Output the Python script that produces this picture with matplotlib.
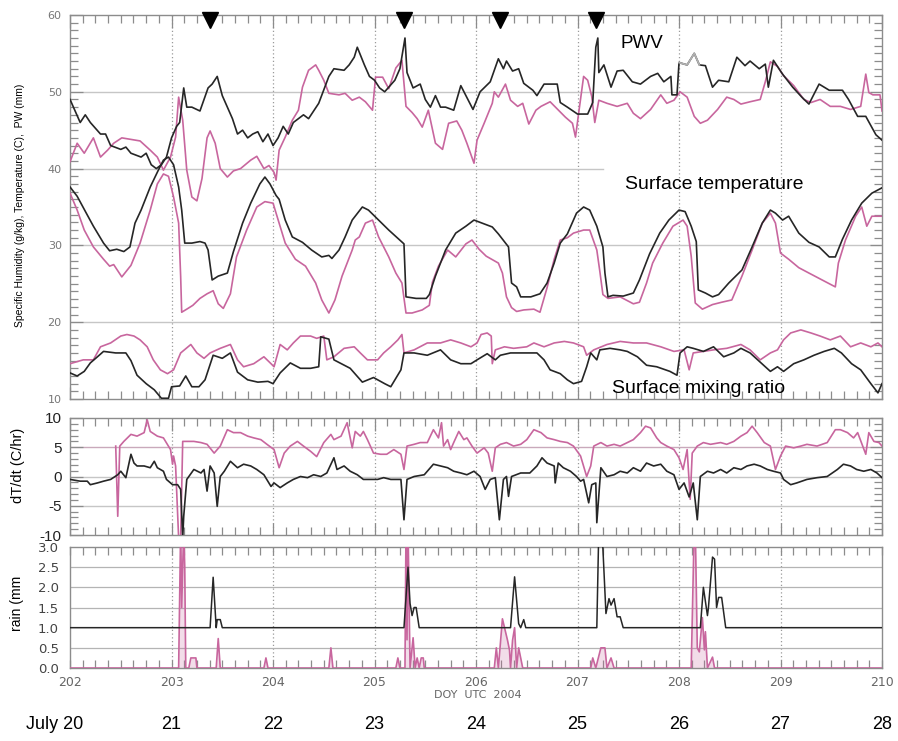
import matplotlib
matplotlib.use("Agg")
import matplotlib.pyplot as plt
from matplotlib.ticker import MultipleLocator
from matplotlib.transforms import blended_transform_factory

plt.rcParams['axes.unicode_minus'] = False

# ---- data (day of year 2004, UTC) ----
pwv_black = [(202.0, 49.0), (202.05, 47.5), (202.1, 46.0), (202.15, 47.0), (202.2, 46.0), (202.3, 44.5),
             (202.35, 44.5), (202.4, 43.0), (202.5, 42.5), (202.55, 42.8), (202.6, 42.0), (202.7, 41.5),
             (202.75, 42.0), (202.8, 40.5), (202.85, 40.0), (202.9, 40.5), (202.95, 41.5), (203.0, 44.0),
             (203.05, 45.5), (203.08, 46.0), (203.12, 50.5), (203.15, 48.0), (203.2, 48.0), (203.28, 47.5),
             (203.32, 49.0), (203.36, 50.5), (203.4, 51.0), (203.45, 52.0), (203.5, 49.5), (203.6, 46.5),
             (203.65, 44.5), (203.7, 45.0), (203.75, 44.0), (203.8, 44.5), (203.85, 44.8), (203.9, 43.5),
             (203.95, 44.5), (204.0, 43.0), (204.05, 44.0), (204.1, 45.5), (204.15, 44.5), (204.2, 46.0),
             (204.3, 47.0), (204.35, 46.5), (204.45, 48.5), (204.55, 52.0), (204.6, 53.0), (204.7, 52.8),
             (204.75, 53.5), (204.8, 54.5), (204.83, 55.8), (204.9, 53.5), (204.95, 52.0), (205.0, 51.5),
             (205.05, 50.5), (205.1, 50.0), (205.2, 51.5), (205.25, 53.0), (205.3, 57.0), (205.32, 52.5),
             (205.38, 50.5), (205.45, 51.0), (205.5, 49.0), (205.55, 48.0), (205.6, 49.5), (205.65, 48.0),
             (205.7, 48.0), (205.78, 47.6), (205.85, 50.8), (205.97, 47.7), (206.04, 50.0), (206.14, 51.3),
             (206.22, 54.3), (206.27, 53.0), (206.3, 54.0), (206.36, 52.7), (206.42, 53.0), (206.47, 51.1),
             (206.56, 50.2), (206.6, 49.5), (206.67, 51.0), (206.8, 51.0), (206.83, 48.6), (206.9, 48.0),
             (207.0, 47.1), (207.1, 47.1), (207.15, 48.6), (207.18, 55.8), (207.2, 57.0), (207.21, 52.5),
             (207.26, 53.5), (207.33, 50.6), (207.39, 52.7), (207.45, 52.8), (207.54, 51.3), (207.62, 51.0),
             (207.72, 52.0), (207.79, 52.4), (207.85, 51.3), (207.92, 52.0), (207.93, 49.6), (207.98, 49.6),
             (208.0, 53.8), (208.08, 53.5), (208.15, 55.0), (208.2, 53.5), (208.26, 53.4), (208.33, 50.6),
             (208.39, 51.5), (208.49, 51.3), (208.57, 54.5), (208.65, 53.4), (208.7, 54.0), (208.79, 53.0),
             (208.85, 53.6), (208.88, 50.6), (208.93, 54.1), (209.02, 52.3), (209.12, 50.6), (209.21, 49.3),
             (209.28, 48.4), (209.38, 51.0), (209.48, 50.2), (209.61, 50.2), (209.67, 49.0), (209.76, 46.8),
             (209.84, 46.8), (209.94, 44.4), (210.0, 43.7)]
pwv_faint_span = (208.0, 208.2)   # stretch drawn in light grey in the original

pwv_pink = [(202.0, 40.9), (202.07, 43.3), (202.14, 42.0), (202.23, 44.0), (202.3, 41.5), (202.37, 42.4),
            (202.43, 43.3), (202.51, 44.0), (202.6, 43.8), (202.69, 43.6), (202.79, 42.4), (202.86, 41.5),
            (202.92, 39.8), (202.99, 41.5), (203.04, 44.1), (203.07, 49.3), (203.11, 46.3), (203.15, 39.8),
            (203.2, 36.3), (203.25, 35.8), (203.3, 38.7), (203.35, 44.0), (203.38, 44.9), (203.43, 43.3),
            (203.48, 40.0), (203.55, 38.9), (203.61, 39.7), (203.68, 40.0), (203.78, 41.1), (203.84, 41.6),
            (203.91, 40.0), (203.96, 40.4), (204.01, 39.5), (204.03, 38.5), (204.06, 42.4), (204.12, 44.1),
            (204.19, 46.3), (204.25, 47.6), (204.29, 50.6), (204.35, 52.8), (204.42, 53.5), (204.45, 52.8),
            (204.5, 51.5), (204.55, 49.8), (204.65, 49.6), (204.71, 49.8), (204.78, 48.9), (204.85, 49.3),
            (204.91, 48.7), (204.98, 47.6), (205.01, 51.9), (205.08, 51.9), (205.14, 50.4), (205.21, 53.1),
            (205.27, 54.1), (205.31, 48.1), (205.37, 47.3), (205.42, 46.5), (205.47, 45.4), (205.53, 47.6),
            (205.6, 43.3), (205.67, 42.5), (205.73, 45.9), (205.81, 46.2), (205.86, 45.0), (205.91, 43.3),
            (205.98, 40.7), (206.01, 43.7), (206.08, 45.9), (206.16, 48.5), (206.18, 50.0), (206.22, 49.3),
            (206.29, 51.0), (206.34, 48.9), (206.41, 48.1), (206.46, 48.5), (206.52, 45.8), (206.59, 47.6),
            (206.64, 48.1), (206.73, 48.7), (206.82, 47.5), (206.88, 46.7), (206.95, 45.9), (206.98, 44.1),
            (207.01, 47.1), (207.06, 52.0), (207.1, 51.5), (207.14, 49.4), (207.17, 46.0), (207.21, 48.9),
            (207.29, 48.5), (207.39, 48.1), (207.49, 48.5), (207.55, 47.2), (207.62, 46.5), (207.72, 47.7),
            (207.82, 49.6), (207.88, 48.5), (207.95, 48.9), (208.01, 50.0), (208.08, 49.3), (208.15, 46.8),
            (208.21, 45.9), (208.28, 46.3), (208.38, 47.7), (208.47, 49.3), (208.54, 49.0), (208.61, 48.4),
            (208.7, 48.7), (208.8, 49.0), (208.85, 51.3), (208.9, 53.9), (208.97, 53.3), (209.03, 52.1),
            (209.13, 50.8), (209.23, 49.0), (209.3, 48.6), (209.39, 49.0), (209.49, 48.1), (209.59, 48.1),
            (209.69, 47.7), (209.79, 48.1), (209.84, 52.3), (209.87, 49.9), (209.91, 49.6), (209.98, 49.6),
            (210.0, 47.5)]

temp_black = [(202.0, 37.6), (202.07, 36.4), (202.16, 34.2), (202.23, 32.5), (202.33, 30.3), (202.39, 29.3),
              (202.46, 29.5), (202.53, 29.2), (202.59, 29.8), (202.64, 32.9), (202.7, 34.6), (202.79, 37.6),
              (202.87, 39.8), (202.92, 41.1), (202.97, 41.5), (203.02, 40.5), (203.07, 37.6), (203.1, 34.6),
              (203.13, 30.3), (203.2, 30.3), (203.28, 30.5), (203.33, 30.3), (203.36, 29.4), (203.4, 25.5),
              (203.46, 26.0), (203.55, 26.4), (203.61, 29.2), (203.7, 32.9), (203.78, 35.5), (203.87, 38.0),
              (203.92, 38.9), (203.97, 38.0), (204.03, 36.5), (204.06, 36.0), (204.12, 33.3), (204.19, 31.1),
              (204.29, 30.4), (204.38, 29.4), (204.48, 28.5), (204.55, 28.7), (204.58, 28.3), (204.65, 29.4),
              (204.71, 31.1), (204.78, 33.3), (204.88, 35.0), (204.94, 34.6), (205.04, 33.3), (205.14, 32.0),
              (205.24, 30.8), (205.29, 30.2), (205.31, 23.3), (205.41, 23.1), (205.51, 23.1), (205.54, 23.6),
              (205.6, 26.0), (205.7, 29.4), (205.8, 31.6), (205.9, 32.5), (205.98, 33.3), (206.06, 32.9),
              (206.16, 32.4), (206.22, 31.5), (206.32, 29.8), (206.35, 25.1), (206.4, 24.6), (206.44, 23.3),
              (206.54, 23.3), (206.63, 23.7), (206.7, 25.1), (206.77, 27.7), (206.83, 30.3), (206.9, 31.5),
              (206.99, 34.2), (207.06, 35.0), (207.12, 34.6), (207.19, 32.5), (207.25, 29.8), (207.27, 26.4),
              (207.3, 23.3), (207.35, 23.5), (207.45, 23.4), (207.55, 23.8), (207.61, 25.5), (207.71, 28.9),
              (207.81, 31.6), (207.9, 33.3), (208.0, 34.6), (208.06, 34.4), (208.12, 32.5), (208.17, 30.5),
              (208.19, 24.2), (208.26, 23.8), (208.33, 23.3), (208.39, 23.6), (208.49, 25.1), (208.62, 26.8),
              (208.72, 29.8), (208.82, 32.9), (208.9, 34.6), (208.95, 34.2), (209.02, 33.3), (209.08, 33.8),
              (209.18, 31.6), (209.28, 30.4), (209.38, 29.8), (209.48, 28.5), (209.54, 28.5), (209.61, 30.8),
              (209.7, 33.3), (209.8, 35.5), (209.9, 36.8), (210.0, 37.5)]

temp_pink = [(202.0, 36.8), (202.07, 34.6), (202.14, 32.0), (202.23, 29.8), (202.33, 28.2), (202.39, 27.3),
             (202.43, 27.5), (202.51, 25.9), (202.6, 27.4), (202.69, 30.3), (202.79, 34.6), (202.86, 38.0),
             (202.92, 39.3), (202.97, 39.0), (203.02, 36.3), (203.07, 32.9), (203.09, 25.9), (203.1, 21.3),
             (203.15, 21.7), (203.21, 22.2), (203.28, 23.1), (203.35, 23.7), (203.41, 24.1), (203.46, 22.4),
             (203.51, 21.8), (203.58, 23.7), (203.64, 28.5), (203.74, 32.0), (203.84, 35.0), (203.92, 35.7),
             (204.0, 35.5), (204.06, 32.9), (204.12, 30.3), (204.22, 28.2), (204.32, 27.3), (204.42, 25.1),
             (204.48, 22.9), (204.55, 21.2), (204.61, 22.9), (204.68, 26.0), (204.78, 29.4), (204.81, 30.7),
             (204.85, 31.1), (204.91, 32.9), (204.98, 33.3), (205.04, 31.1), (205.14, 28.5), (205.21, 26.4),
             (205.27, 25.1), (205.31, 21.2), (205.37, 21.2), (205.47, 21.6), (205.54, 22.2), (205.57, 25.2),
             (205.63, 27.3), (205.72, 29.4), (205.8, 28.5), (205.9, 30.2), (205.96, 30.7), (206.03, 29.5),
             (206.1, 28.6), (206.22, 27.7), (206.26, 26.4), (206.3, 23.3), (206.35, 21.9), (206.4, 21.4),
             (206.47, 21.6), (206.57, 21.7), (206.63, 21.3), (206.7, 24.5), (206.77, 28.2), (206.83, 30.7),
             (206.9, 31.0), (206.96, 31.6), (207.06, 32.0), (207.12, 32.0), (207.19, 29.4), (207.22, 26.6),
             (207.25, 23.6), (207.3, 23.1), (207.42, 23.3), (207.55, 22.4), (207.61, 22.6), (207.68, 25.1),
             (207.74, 27.7), (207.84, 30.3), (207.94, 32.5), (208.04, 33.3), (208.08, 32.5), (208.12, 28.6),
             (208.16, 22.5), (208.23, 21.7), (208.33, 22.3), (208.42, 22.6), (208.52, 22.9), (208.62, 26.0),
             (208.72, 29.4), (208.82, 32.9), (208.9, 34.2), (208.95, 32.9), (209.0, 29.0), (209.08, 28.2),
             (209.18, 27.1), (209.28, 26.4), (209.41, 25.5), (209.54, 24.6), (209.57, 27.7), (209.64, 30.7),
             (209.74, 33.8), (209.8, 35.0), (209.85, 32.5), (209.9, 33.8), (210.0, 33.8)]

mixr_black = [(202.0, 13.4), (202.07, 13.0), (202.14, 13.6), (202.2, 14.7), (202.27, 15.5), (202.33, 16.2),
              (202.45, 16.0), (202.55, 16.0), (202.6, 15.0), (202.66, 13.1), (202.75, 12.0), (202.83, 11.2),
              (202.9, 10.1), (202.97, 10.1), (203.0, 11.6), (203.08, 11.7), (203.14, 13.0), (203.2, 11.6),
              (203.27, 11.6), (203.33, 12.5), (203.41, 15.7), (203.5, 15.3), (203.58, 16.0), (203.65, 13.5),
              (203.75, 12.5), (203.85, 12.2), (203.95, 12.3), (204.0, 12.0), (204.07, 13.4), (204.17, 14.7),
              (204.27, 14.0), (204.37, 14.0), (204.45, 14.2), (204.47, 18.1), (204.55, 17.8), (204.6, 15.1),
              (204.76, 14.0), (204.88, 12.2), (204.99, 12.8), (205.1, 12.0), (205.16, 11.6), (205.26, 13.8),
              (205.29, 16.0), (205.39, 16.0), (205.52, 15.7), (205.65, 16.4), (205.75, 15.1), (205.85, 14.6),
              (205.95, 14.6), (206.01, 15.1), (206.11, 15.9), (206.19, 15.1), (206.24, 15.7), (206.34, 16.0),
              (206.47, 16.0), (206.6, 16.0), (206.67, 15.1), (206.73, 13.8), (206.83, 13.3), (206.9, 12.5),
              (206.96, 12.0), (207.04, 12.3), (207.09, 14.2), (207.13, 16.0), (207.19, 15.1), (207.22, 16.4),
              (207.32, 16.6), (207.42, 16.4), (207.49, 16.2), (207.59, 15.5), (207.68, 14.4), (207.78, 14.2),
              (207.91, 13.6), (207.98, 13.1), (208.01, 16.0), (208.08, 16.8), (208.14, 16.6), (208.24, 16.2),
              (208.34, 16.8), (208.44, 15.5), (208.54, 16.0), (208.61, 16.6), (208.7, 16.0), (208.8, 14.8),
              (208.9, 13.6), (208.97, 14.2), (209.03, 13.6), (209.13, 14.6), (209.23, 15.1), (209.33, 15.7),
              (209.43, 16.2), (209.53, 16.6), (209.6, 16.0), (209.7, 14.6), (209.79, 13.8), (209.89, 12.0),
              (209.96, 10.8), (210.0, 12.0)]

mixr_pink = [(202.0, 14.6), (202.13, 15.1), (202.23, 15.1), (202.3, 16.8), (202.4, 17.3), (202.5, 18.2),
             (202.56, 18.4), (202.63, 18.2), (202.69, 17.7), (202.76, 16.8), (202.82, 15.1), (202.89, 13.8),
             (202.96, 13.3), (203.02, 13.8), (203.09, 16.0), (203.19, 17.1), (203.25, 16.0), (203.32, 15.3),
             (203.38, 16.0), (203.48, 16.6), (203.58, 17.1), (203.65, 15.1), (203.71, 14.2), (203.81, 14.6),
             (203.91, 15.5), (203.98, 14.6), (204.01, 14.2), (204.07, 17.1), (204.14, 16.4), (204.2, 17.3),
             (204.27, 18.2), (204.37, 18.2), (204.43, 17.9), (204.5, 18.2), (204.53, 15.1), (204.6, 15.5),
             (204.7, 16.6), (204.8, 16.8), (204.86, 16.0), (204.93, 15.1), (205.03, 15.1), (205.09, 16.0),
             (205.16, 16.8), (205.23, 17.7), (205.27, 18.4), (205.29, 16.0), (205.39, 16.4), (205.52, 17.3),
             (205.65, 17.3), (205.75, 17.7), (205.85, 17.3), (205.95, 16.8), (206.01, 17.3), (206.05, 18.4),
             (206.11, 18.6), (206.15, 18.2), (206.16, 14.6), (206.19, 16.4), (206.28, 16.8), (206.37, 16.6),
             (206.5, 16.8), (206.57, 17.3), (206.67, 16.8), (206.77, 17.3), (206.87, 17.5), (206.96, 17.3),
             (207.06, 16.8), (207.09, 15.7), (207.16, 16.4), (207.29, 17.1), (207.42, 17.5), (207.55, 17.3),
             (207.68, 17.3), (207.82, 16.8), (207.95, 16.2), (208.05, 16.4), (208.1, 13.8), (208.14, 16.0),
             (208.24, 16.2), (208.34, 16.4), (208.47, 16.6), (208.61, 17.1), (208.7, 16.4), (208.8, 15.1),
             (208.9, 16.0), (208.97, 16.4), (209.03, 17.7), (209.1, 18.6), (209.2, 19.0), (209.3, 18.6),
             (209.39, 18.2), (209.49, 17.7), (209.59, 18.2), (209.69, 16.8), (209.79, 17.3), (209.89, 16.8),
             (209.96, 17.3), (210.0, 16.8)]

dtdt_black = [(202.0, -0.5), (202.1, -0.8), (202.17, -0.8), (202.2, -1.4), (202.27, -1.1), (202.33, -0.8),
              (202.4, -0.5), (202.47, 0.3), (202.5, 0.9), (202.55, -0.2), (202.6, 3.8), (202.63, 2.3),
              (202.66, 1.8), (202.73, 1.8), (202.79, 1.5), (202.83, 2.6), (202.86, 1.5), (202.92, 0.9),
              (202.95, -0.5), (203.01, -1.4), (203.06, -1.4), (203.09, -2.2), (203.11, -10.5), (203.12, -6.8),
              (203.15, -0.5), (203.22, 1.2), (203.29, 0.6), (203.32, 1.2), (203.35, -2.5), (203.38, 1.8),
              (203.42, 0.6), (203.45, -5.1), (203.48, 0.0), (203.52, 0.9), (203.58, 2.6), (203.65, 1.5),
              (203.71, 2.1), (203.78, 1.8), (203.84, 1.2), (203.91, 0.3), (203.98, -1.7), (204.01, -1.1),
              (204.07, -1.9), (204.14, -1.1), (204.2, -0.5), (204.27, 0.0), (204.34, -0.2), (204.4, 0.3),
              (204.47, 0.0), (204.53, 0.6), (204.6, 3.2), (204.63, 1.2), (204.7, 1.8), (204.76, 0.9),
              (204.83, 0.3), (204.89, -0.5), (204.96, -0.5), (205.03, -0.5), (205.09, -0.2), (205.16, -0.5),
              (205.22, -0.5), (205.26, -0.5), (205.29, -7.4), (205.32, -0.5), (205.39, 0.0), (205.49, 0.3),
              (205.58, 2.1), (205.65, 1.8), (205.72, 1.5), (205.78, 0.9), (205.85, 0.6), (205.91, 0.3),
              (205.98, 0.9), (206.04, 0.0), (206.09, -2.2), (206.14, -0.5), (206.19, -0.2), (206.23, -7.4),
              (206.27, -0.5), (206.3, 0.0), (206.32, -3.4), (206.35, 0.0), (206.44, 0.6), (206.53, 0.6),
              (206.6, 1.8), (206.65, 3.2), (206.7, 2.3), (206.77, 1.8), (206.78, -1.1), (206.81, 2.3),
              (206.86, 1.5), (206.93, 0.9), (206.99, 0.0), (207.03, -0.8), (207.06, -0.5), (207.11, -4.5),
              (207.14, -1.4), (207.18, -1.1), (207.19, -7.9), (207.23, 1.5), (207.29, 0.0), (207.36, 0.3),
              (207.42, 0.9), (207.49, 0.6), (207.55, 1.5), (207.62, 0.9), (207.68, 2.3), (207.75, 1.8),
              (207.82, 2.1), (207.88, 0.9), (207.95, 0.3), (208.0, -2.2), (208.05, -1.1), (208.1, -3.5),
              (208.14, -1.1), (208.18, -7.4), (208.21, 0.0), (208.28, 0.9), (208.34, 0.6), (208.41, 1.2),
              (208.47, 0.6), (208.54, 1.5), (208.61, 1.2), (208.67, 1.8), (208.74, 2.1), (208.8, 1.8),
              (208.87, 1.2), (208.93, 0.9), (209.0, 0.6), (209.03, -0.5), (209.1, -1.4), (209.16, -1.1),
              (209.26, -0.5), (209.36, -0.2), (209.46, 0.0), (209.56, 1.2), (209.62, 2.1), (209.69, 1.8),
              (209.75, 1.2), (209.82, 0.9), (209.89, 1.2), (209.95, 0.6), (210.0, -0.2)]

# pink dT/dt is drawn offset by +5
dtdt_pink = [(202.45, 5.2), (202.47, -6.8), (202.49, 5.2), (202.53, 6.0), (202.6, 7.2), (202.66, 6.9),
             (202.73, 7.5), (202.76, 9.7), (202.79, 7.7), (202.86, 6.9), (202.92, 6.6), (202.99, 4.6),
             (203.01, 2.1), (203.02, 3.5), (203.04, 1.8), (203.07, -10.5), (203.09, -10.5), (203.11, 6.0),
             (203.15, 6.0), (203.22, 6.0), (203.29, 5.8), (203.35, 5.5), (203.42, 4.0), (203.48, 5.2),
             (203.55, 8.0), (203.61, 7.5), (203.68, 7.5), (203.75, 6.9), (203.81, 6.6), (203.88, 6.3),
             (203.94, 5.5), (204.01, 4.6), (204.06, 1.5), (204.11, 4.0), (204.17, 5.2), (204.24, 6.0),
             (204.3, 5.2), (204.37, 4.3), (204.43, 3.4), (204.5, 5.8), (204.57, 7.2), (204.6, 6.3),
             (204.67, 6.9), (204.73, 9.2), (204.78, 4.9), (204.81, 7.7), (204.86, 6.9), (204.89, 7.7),
             (204.93, 6.3), (204.99, 4.0), (205.06, 3.8), (205.12, 3.8), (205.19, 4.6), (205.26, 3.8),
             (205.29, 1.2), (205.32, 5.2), (205.39, 5.5), (205.45, 5.8), (205.52, 5.8), (205.58, 8.0),
             (205.63, 6.6), (205.66, 9.2), (205.68, 5.2), (205.72, 6.3), (205.75, 4.6), (205.78, 5.8),
             (205.83, 7.7), (205.88, 6.3), (205.91, 6.6), (205.96, 5.2), (206.01, 4.0), (206.08, 4.9),
             (206.12, 4.0), (206.16, 0.9), (206.19, 4.9), (206.24, 5.5), (206.3, 5.8), (206.37, 5.2),
             (206.44, 5.5), (206.5, 6.3), (206.57, 8.0), (206.64, 7.5), (206.7, 6.6), (206.77, 6.3),
             (206.83, 6.0), (206.9, 5.8), (206.96, 5.2), (207.03, 3.5), (207.09, 0.0), (207.13, 1.8),
             (207.16, 5.2), (207.23, 5.8), (207.29, 5.2), (207.36, 5.5), (207.42, 5.2), (207.49, 5.8),
             (207.55, 6.3), (207.62, 7.5), (207.67, 8.6), (207.72, 8.3), (207.78, 6.6), (207.82, 5.8),
             (207.88, 5.2), (207.95, 4.6), (208.0, 3.2), (208.04, 1.2), (208.08, 4.6), (208.11, -3.9),
             (208.13, 4.0), (208.18, 5.2), (208.24, 5.8), (208.31, 5.5), (208.41, 5.8), (208.47, 5.5),
             (208.54, 6.0), (208.61, 6.9), (208.67, 7.5), (208.72, 8.6), (208.77, 7.5), (208.84, 5.8),
             (208.9, 5.2), (208.95, 1.2), (209.0, 3.5), (209.05, 5.2), (209.13, 4.9), (209.2, 5.2),
             (209.26, 5.5), (209.36, 5.2), (209.46, 5.8), (209.54, 8.0), (209.59, 8.0), (209.66, 7.5),
             (209.72, 6.6), (209.76, 7.5), (209.81, 5.2), (209.84, 3.8), (209.87, 7.5), (209.92, 6.0),
             (209.97, 5.8), (210.0, 5.2)]

# black rain is drawn offset by +1 mm
rain_black = [(202.0, 1.0), (203.38, 1.0), (203.41, 2.25), (203.44, 1.0), (203.45, 1.2), (203.48, 1.2),
              (203.5, 1.0), (205.29, 1.0), (205.33, 2.5), (205.35, 1.6), (205.37, 1.3), (205.39, 1.5),
              (205.41, 1.5), (205.44, 1.0), (206.34, 1.0), (206.38, 2.26), (206.42, 1.1), (206.44, 1.0),
              (206.47, 1.2), (206.49, 1.0), (207.19, 1.0), (207.21, 3.5), (207.24, 3.5), (207.28, 1.35),
              (207.31, 1.72), (207.33, 1.56), (207.36, 1.72), (207.39, 1.27), (207.42, 1.27), (207.45, 1.0),
              (208.21, 1.0), (208.24, 2.0), (208.28, 1.3), (208.29, 1.5), (208.33, 2.75), (208.35, 2.7),
              (208.37, 1.5), (208.39, 1.75), (208.42, 1.75), (208.46, 1.0), (210.0, 1.0)]

rain_pink = [(202.0, 0.0), (203.07, 0.0), (203.09, 3.5), (203.1, 1.5), (203.12, 3.5), (203.13, 2.5),
             (203.14, 0.0), (203.17, 0.0), (203.19, 0.25), (203.24, 0.25), (203.25, 0.0), (203.44, 0.0),
             (203.46, 0.73), (203.48, 0.0), (203.91, 0.0), (203.93, 0.25), (203.95, 0.0), (204.55, 0.0),
             (204.57, 0.5), (204.59, 0.0), (205.21, 0.0), (205.23, 0.25), (205.25, 0.0), (205.3, 0.0),
             (205.31, 3.5), (205.32, 0.7), (205.33, 3.5), (205.35, 0.0), (205.38, 0.75), (205.4, 0.0),
             (205.42, 0.25), (205.44, 0.0), (205.46, 0.25), (205.48, 0.25), (205.49, 0.0), (206.18, 0.0),
             (206.2, 0.5), (206.22, 0.0), (206.26, 1.22), (206.31, 0.69), (206.33, 0.44), (206.34, 0.0),
             (206.36, 0.69), (206.38, 1.0), (206.4, 0.0), (206.42, 0.5), (206.46, 0.0), (207.13, 0.0),
             (207.15, 0.25), (207.18, 0.0), (207.23, 0.5), (207.27, 0.5), (207.29, 0.0), (207.33, 0.25),
             (207.36, 0.0), (208.12, 0.0), (208.15, 3.5), (208.16, 3.5), (208.18, 0.5), (208.2, 0.4),
             (208.23, 1.25), (208.25, 0.45), (208.26, 0.9), (208.28, 0.0), (208.33, 0.27), (208.35, 0.0),
             (210.0, 0.0)]

storm_doy = [203.38, 205.29, 206.24, 207.18]
date_labels = ['July 20', '21', '22', '23', '24', '25', '26', '27', '28']
date_doy = [202, 203, 204, 205, 206, 207, 208, 209, 210]

BLACK = '#262626'
PINK = '#c8669e'
FRAME = '#8c8c8c'
GRIDC = '#c6c6c6'
SANS = 'Liberation Sans'


def unzip(pairs):
    return [p[0] for p in pairs], [p[1] for p in pairs]


def style(ax, ylo, yhi, ymajor, yminor):
    ax.set_xlim(202, 210)
    ax.set_ylim(ylo, yhi)
    for s in ax.spines.values():
        s.set_color(FRAME)
        s.set_linewidth(1.0)
    ax.xaxis.set_major_locator(MultipleLocator(1))
    ax.xaxis.set_minor_locator(MultipleLocator(0.125))
    ax.yaxis.set_major_locator(MultipleLocator(ymajor))
    ax.yaxis.set_minor_locator(MultipleLocator(yminor))
    ax.tick_params(which='both', direction='in', top=True, right=True, color=FRAME, width=0.9)
    ax.tick_params(which='major', length=9)
    ax.tick_params(which='minor', length=6)
    for d in range(203, 210):
        ax.axvline(d, color='#9a9a9a', lw=0.9, ls=(0, (1, 2)), zorder=1)


fig = plt.figure(figsize=(8.98, 7.41), dpi=100)
ax1 = fig.add_axes([0.0780, 0.4615, 0.9042, 0.5183])
ax2 = fig.add_axes([0.0780, 0.2780, 0.9042, 0.1579])
ax3 = fig.add_axes([0.0780, 0.0985, 0.9042, 0.1633])

# ---- top panel: PWV, surface temperature, mixing ratio ----
style(ax1, 10, 60, 10, 1)
for lev in (20, 30, 50):
    ax1.axhline(lev, color=GRIDC, lw=1.0, zorder=1)
ax1.plot([202, 207.25], [40, 40], color=GRIDC, lw=1.0, zorder=1)
for series, col in ((pwv_pink, PINK), (temp_pink, PINK), (mixr_pink, PINK),
                    (pwv_black, BLACK), (temp_black, BLACK), (mixr_black, BLACK)):
    x, y = unzip(series)
    ax1.plot(x, y, color=col, lw=1.2, zorder=3)
# light grey stretch of the black PWV record
x, y = unzip([p for p in pwv_black if pwv_faint_span[0] <= p[0] <= pwv_faint_span[1]])
ax1.plot(x, y, color='#b0b0b0', lw=1.3, zorder=4)
ax1.plot(storm_doy, [59.4] * len(storm_doy), 'v', color='black', ms=12, clip_on=False, zorder=5)
ax1.set_xticklabels([])
ax1.tick_params(axis='y', labelsize=8, labelcolor='#777777', pad=6)
ax1.text(207.63, 56.3, 'PWV', fontsize=13.5, family=SANS, ha='center', va='center')
ax1.text(208.35, 37.9, 'Surface temperature', fontsize=14, family=SANS, ha='center', va='center')
ax1.text(208.19, 11.4, 'Surface mixing ratio', fontsize=14, family=SANS, ha='center', va='center')
fig.text(0.022, 0.723, 'Specific Humidity (g/kg), Temperature (C),  PW (mm)', rotation=90,
         fontsize=7.5, family=SANS, ha='center', va='center')

# ---- middle panel: dT/dt ----
style(ax2, -10, 10, 5, 1)
ax2.axhline(5, color='#c9a9bb', lw=1.0, zorder=1)
for lev in (0, -5):
    ax2.axhline(lev, color=GRIDC, lw=1.0, zorder=1)
x, y = unzip(dtdt_pink)
ax2.plot(x, y, color=PINK, lw=1.2, zorder=3)
x, y = unzip(dtdt_black)
ax2.plot(x, y, color=BLACK, lw=1.2, zorder=3)
ax2.set_xticklabels([])
ax2.tick_params(axis='y', labelsize=11, labelcolor='#222222', pad=6)
for t in ax2.get_yticklabels():
    t.set_family(SANS)
fig.text(0.020, 0.372, 'dT/dt (C/hr)', rotation=90, fontsize=10.5, family=SANS,
         ha='center', va='center')

# ---- bottom panel: rain ----
style(ax3, 0, 3, 0.5, 0.5)
for lev in (0.5, 1.5, 2.0, 2.5):
    ax3.axhline(lev, color='#b4b4b4', lw=0.9, zorder=1)
x, y = unzip(rain_pink)
ax3.fill_between(x, 0, y, color=PINK, alpha=0.22, lw=0, zorder=2)
ax3.plot(x, y, color=PINK, lw=1.2, zorder=3)
x, y = unzip(rain_black)
ax3.plot(x, y, color=BLACK, lw=1.1, zorder=3)
ax3.yaxis.set_major_formatter(plt.FormatStrFormatter('%.1f'))
ax3.tick_params(axis='y', which='major', length=0, labelsize=9.5, labelcolor='#444444', pad=8)
ax3.tick_params(axis='y', which='minor', length=0)
ax3.tick_params(axis='x', which='major', length=6, labelsize=9, labelcolor='#666666', pad=6)
fig.text(0.019, 0.186, 'rain (mm', rotation=90, fontsize=10, family=SANS, ha='center', va='center')
fig.text(0.532, 0.062, 'DOY  UTC  2004', fontsize=8, color='#666666', ha='center', va='center')

trans = blended_transform_factory(ax3.transData, fig.transFigure)
for d, lab in zip(date_doy, date_labels):
    if lab.startswith('July'):
        ax3.text(d + 0.13, 0.022, lab, transform=trans, ha='right', va='center', fontsize=13, family=SANS)
    else:
        ax3.text(d, 0.022, lab, transform=trans, ha='center', va='center', fontsize=13, family=SANS)

fig.savefig('out.png', dpi=100)
